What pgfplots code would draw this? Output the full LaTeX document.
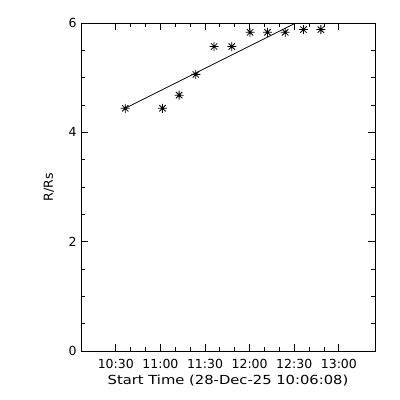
\documentclass[border=0pt]{standalone}
\usepackage{pgfplots}
\pgfplotsset{compat=1.18}
\usepackage{graphicx}
\usepackage{fontspec}
\setmainfont{DejaVu Sans}

% 8-armed asterisk like IDL psym=2
\pgfdeclareplotmark{star8}{%
  \pgfpathmoveto{\pgfqpoint{-\pgfplotmarksize}{0pt}}%
  \pgfpathlineto{\pgfqpoint{\pgfplotmarksize}{0pt}}%
  \pgfpathmoveto{\pgfqpoint{0pt}{-\pgfplotmarksize}}%
  \pgfpathlineto{\pgfqpoint{0pt}{\pgfplotmarksize}}%
  \pgfpathmoveto{\pgfqpoint{-0.707\pgfplotmarksize}{-0.707\pgfplotmarksize}}%
  \pgfpathlineto{\pgfqpoint{0.707\pgfplotmarksize}{0.707\pgfplotmarksize}}%
  \pgfpathmoveto{\pgfqpoint{-0.707\pgfplotmarksize}{0.707\pgfplotmarksize}}%
  \pgfpathlineto{\pgfqpoint{0.707\pgfplotmarksize}{-0.707\pgfplotmarksize}}%
  \pgfusepathqstroke}

\begin{document}
\begin{tikzpicture}
\useasboundingbox (-81pt,-49pt) rectangle (319pt,351pt);
\begin{axis}[
  scale only axis,
  width=294pt, height=328pt,
  xmin=6.6, xmax=204.3,
  ymin=0, ymax=6,
  xtick={30,60,90,120,150,180},
  xticklabels={10:30,11:00,11:30,12:00,12:30,13:00},
  minor x tick num=2,
  ytick={0,2,4,6},
  minor y tick num=3,
  tick align=inside,
  major tick length=7pt,
  minor tick length=4pt,
  axis line style={line width=0.8pt},
  every tick/.style={black, line width=0.8pt},
  tick label style={font=\fontsize{12.5}{14}\selectfont},
  xticklabel style={anchor=center, yshift=-13pt},
  yticklabel style={xshift=-1pt},
  /pgf/number format/assume math mode=true,
  xlabel={\scalebox{1.18}[1]{Start Time (28-Dec-25 10:06:08)}},
  ylabel={R/Rs},
  label style={font=\fontsize{12.5}{14}\selectfont},
  xlabel style={at={([yshift=-30pt]axis description cs:0.5,0)}, anchor=center},
  ylabel style={at={([xshift=-32pt]axis description cs:0,0.5)}, anchor=center},
]
\addplot[only marks, mark=star8, mark size=4.5pt, line width=0.8pt, black]
  coordinates {
    (36.3,4.44) (61.4,4.44) (72.6,4.68) (83.8,5.06) (96.1,5.57) (108.0,5.57)
    (120.3,5.83) (132.0,5.83) (143.9,5.83) (156.2,5.88) (167.9,5.88)
  };
\addplot[black, line width=0.8pt]
  coordinates {(36.3,4.44) (167.9,6.23)};
\end{axis}
\end{tikzpicture}
\end{document}
